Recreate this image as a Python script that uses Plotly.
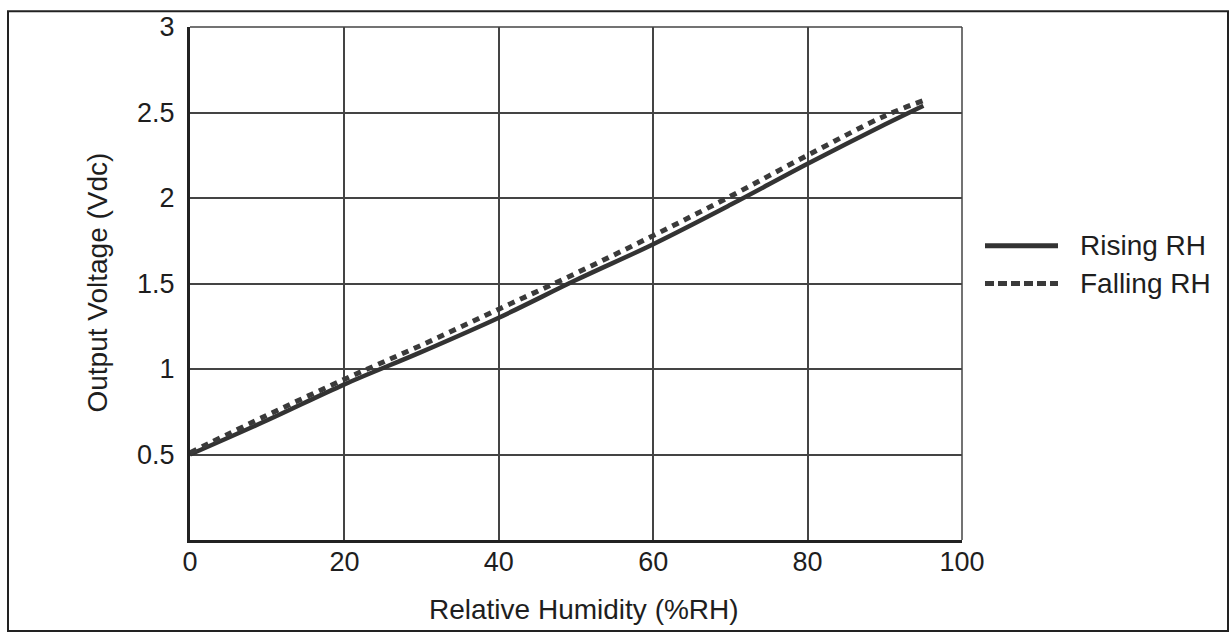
import plotly.graph_objects as go

# Data
rh_rising = [0, 10, 20, 30, 40, 50, 60, 70, 80, 90, 95]
v_rising = [0.50, 0.70, 0.91, 1.10, 1.30, 1.52, 1.73, 1.96, 2.20, 2.43, 2.54]

rh_falling = [0, 10, 20, 30, 40, 50, 60, 70, 80, 90, 95]
v_falling = [0.51, 0.73, 0.94, 1.14, 1.35, 1.56, 1.78, 2.01, 2.25, 2.48, 2.57]

x_ticks = [0, 20, 40, 60, 80, 100]
y_ticks = [0.5, 1, 1.5, 2, 2.5, 3]
y_ticktext = ["0.5", "1", "1.5", "2", "2.5", "3"]

FONT = "Liberation Sans, Arial, sans-serif"
INK = "#1e1e1e"
TICK_SIZE = 27
TITLE_SIZE = 28
LEGEND_SIZE = 28

fig = go.Figure()
fig.add_trace(go.Scatter(
    x=rh_rising, y=v_rising, mode="lines", name="Rising RH",
    line=dict(color="#333333", width=4.5), line_shape="spline", showlegend=False,
))
fig.add_trace(go.Scatter(
    x=rh_falling, y=v_falling, mode="lines", name="Falling RH",
    line=dict(color="#3a3a3a", width=5, dash="7px,6px"), line_shape="spline", showlegend=False,
))

fig.update_layout(
    width=1232, height=639,
    margin=dict(l=190, r=270, t=22, b=99),
    paper_bgcolor="white", plot_bgcolor="white",
    font=dict(family=FONT, size=TICK_SIZE, color=INK),
    xaxis=dict(
        range=[0, 100], tickvals=x_ticks, ticks="", showgrid=True,
        gridcolor="#444444", gridwidth=1.5, zeroline=False,
        showline=True, linecolor="#222222", linewidth=3,
        ticklabelstandoff=-4, tickfont=dict(size=TICK_SIZE, color=INK),
    ),
    yaxis=dict(
        range=[0, 3], tickvals=y_ticks, ticktext=y_ticktext, ticks="", showgrid=True,
        gridcolor="#444444", gridwidth=1.5, zeroline=False,
        showline=True, linecolor="#222222", linewidth=3,
        ticklabelstandoff=7, tickfont=dict(size=TICK_SIZE, color=INK),
    ),
    showlegend=False,
)

def px_x(p):
    return (p - 190) / 772.0

def px_y(p):
    return (540 - p) / 518.0

shapes = [
    # outer frame
    dict(type="rect", xref="paper", yref="paper",
         x0=px_x(8), x1=px_x(1228), y0=px_y(632), y1=px_y(6),
         line=dict(color="#222222", width=2)),
    # top / right plot border (gridlines at range ends)
    dict(type="line", xref="paper", yref="paper", x0=0, x1=1, y0=1, y1=1,
         line=dict(color="#444444", width=1.5)),
    dict(type="line", xref="paper", yref="paper", x0=1, x1=1, y0=0, y1=1,
         line=dict(color="#444444", width=1.5)),
    # legend samples
    dict(type="line", xref="paper", yref="paper", x0=px_x(985), x1=px_x(1058),
         y0=px_y(243), y1=px_y(243), line=dict(color="#333333", width=5)),
    dict(type="line", xref="paper", yref="paper", x0=px_x(985), x1=px_x(1058),
         y0=px_y(281), y1=px_y(281), line=dict(color="#3a3a3a", width=5, dash="9px,4px")),
]

annotations = [
    dict(text="Relative Humidity (%RH)", xref="paper", yref="paper",
         x=px_x(584), y=px_y(610), xanchor="center", yanchor="middle", showarrow=False,
         font=dict(size=TITLE_SIZE, family=FONT, color=INK)),
    dict(text="Output Voltage (Vdc)", xref="paper", yref="paper",
         x=px_x(98), y=px_y(280), xanchor="center", yanchor="middle",
         showarrow=False, textangle=-90,
         font=dict(size=TITLE_SIZE, family=FONT, color=INK)),
    dict(text="Rising RH", xref="paper", yref="paper", x=px_x(1078), y=px_y(243),
         xanchor="left", yanchor="middle", showarrow=False,
         font=dict(size=LEGEND_SIZE, family=FONT, color=INK)),
    dict(text="Falling RH", xref="paper", yref="paper", x=px_x(1078), y=px_y(281),
         xanchor="left", yanchor="middle", showarrow=False,
         font=dict(size=LEGEND_SIZE, family=FONT, color=INK)),
]

fig.update_layout(shapes=shapes, annotations=annotations)

fig.write_html("out.html")
